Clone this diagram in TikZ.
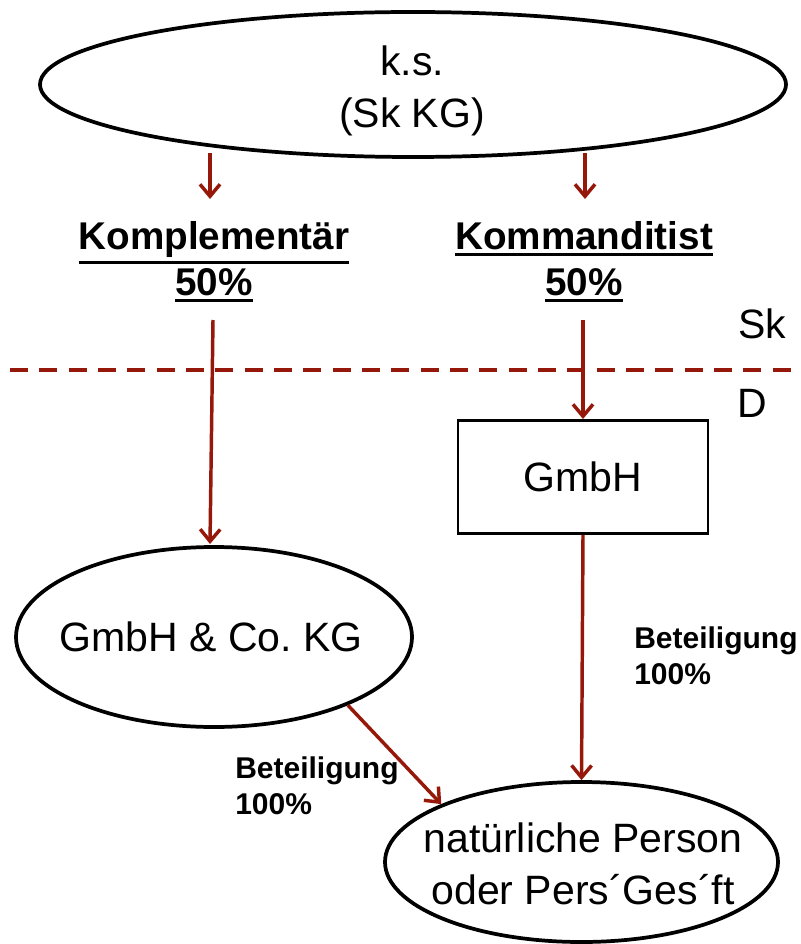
\documentclass[tikz,border=0pt]{standalone}
\usepackage{fontspec}
\setmainfont{Liberation Sans}
\usetikzlibrary{shapes.geometric,arrows.meta}
\definecolor{arrred}{RGB}{150,24,10}
\newcommand\myul[1]{\setbox0\hbox{#1}\dimen0=\dp0\advance\dimen0 by 2.4pt\leavevmode\hbox{\copy0\kern-\wd0\vrule width \wd0 height -\dimen0 depth \dimexpr\dimen0+2.2pt\relax}}
\begin{document}
\begin{tikzpicture}[x=0.75pt,y=-0.75pt,
  arr/.style={draw=arrred,line width=2.6pt,-{Straight Barb[length=9pt,width=15pt,line width=2.6pt]}},
  ell/.style={ellipse,draw=black,line width=2.8pt,inner sep=0pt},
  txt/.style={align=center,inner sep=0pt,font=\fontsize{30.75}{38.5}\selectfont},
  boxn/.style={rectangle,draw=black,line width=2.2pt,inner sep=0pt,font=\fontsize{30.75}{36}\selectfont},
  hdr/.style={align=center,font=\fontsize{29}{34.5}\selectfont\bfseries,inner sep=0pt},
  lbl/.style={align=left,anchor=north west,font=\fontsize{22.5}{27.5}\selectfont\bfseries,inner sep=0pt},
  plain/.style={font=\fontsize{30.75}{36}\selectfont,inner sep=0pt}]
\useasboundingbox (0,0) rectangle (800,944);
% nodes
\node[ell,minimum width=559.5pt,minimum height=108.75pt] (ks) at (413,84.5) {};
\node[txt] (kst) at (412,91) {k.s.\\(Sk KG)};
\node[hdr] (komp) at (214,262) {\myul{Komplementär}\\\myul{50\%}};
\node[hdr] (komm) at (584,262) {\myul{Kommanditist}\\\myul{50\%}};
\node[boxn,minimum width=187.5pt,minimum height=84.75pt] (gmbh) at (583,477) {GmbH};
\node[ell,minimum width=297pt,minimum height=135pt] (kg) at (214,637) {};
\node[txt] (kgt) at (211,637) {GmbH \& Co.\ KG};
\node[ell,minimum width=294.75pt,minimum height=120pt] (np) at (581.5,862) {};
\node[txt] (npt) at (583,864) {natürliche Person\\oder Pers´Ges´ft};
\node[lbl] (bet1) at (634,626) {Beteiligung\\100\%};
\node[lbl] (bet2) at (235,756) {Beteiligung\\100\%};
\node[plain] (sk) at (762,324) {Sk};
\node[plain] (d) at (752,403) {D};
% coordinates
\coordinate (a1s) at (210,153);
\coordinate (a1e) at (210,199);
\coordinate (a2s) at (585,153);
\coordinate (a2e) at (585,199);
\coordinate (a3s) at (213,320);
\coordinate (a3e) at (210,544);
\coordinate (a4s) at (583,320);
\coordinate (dl) at (10,370);
\coordinate (dr) at (792,370);
% dashed border
\draw[arrred,line width=3pt,dash pattern=on 13.5pt off 8.5pt] (dl) -- (dr);
% arrows
\draw[arr] (a1s) -- (a1e);
\draw[arr] (a2s) -- (a2e);
\draw[arr] (a3s) -- (a3e);
\draw[arr] (a4s) -- (gmbh.north);
\draw[arr] (gmbh.south) -- (np.north);
\draw[arr] (kg.-27) -- (np.north west);
\end{tikzpicture}
\end{document}
